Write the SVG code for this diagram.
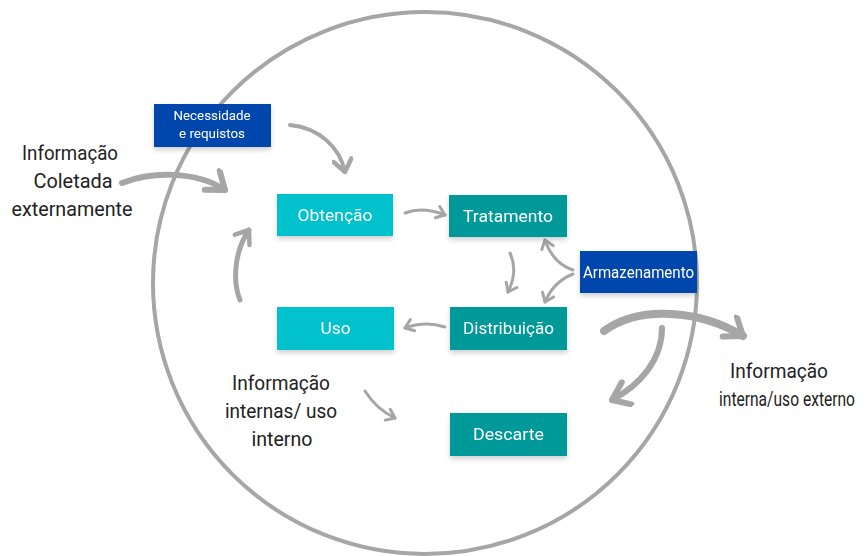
<svg xmlns="http://www.w3.org/2000/svg" width="867" height="556" viewBox="0 0 867 556">
<defs>
<style>
.box-t{font-family:Roboto,"Liberation Sans",sans-serif;fill:#ffffff;text-anchor:middle}
.lbl{font-family:Roboto,"Liberation Sans",sans-serif;fill:#222222;font-size:20px;text-anchor:middle}
.cn{fill:none;stroke:#a6a6a6;stroke-linecap:round}
.blue{fill:#0547ad}
.cyan{fill:#00c1cc}
.teal{fill:#05999a}
</style>
<filter id="sh" x="-10%" y="-20%" width="120%" height="160%">
<feDropShadow dx="0" dy="3" stdDeviation="2.5" flood-color="#000" flood-opacity="0.18"/>
</filter>
<marker id="ah" markerUnits="userSpaceOnUse" markerWidth="16" markerHeight="16" viewBox="0 0 16 16" refX="13" refY="8" orient="auto">
<path d="M5,2 L13,8 L5,14" fill="none" stroke="#a6a6a6" stroke-width="3" stroke-linecap="round" stroke-linejoin="round"/>
</marker>
<marker id="ahm" markerUnits="userSpaceOnUse" markerWidth="22" markerHeight="22" viewBox="0 0 22 22" refX="18" refY="11" orient="auto">
<path d="M6,2 L18,11 L6,20" fill="none" stroke="#a6a6a6" stroke-width="4.5" stroke-linecap="round" stroke-linejoin="round"/>
</marker>
<marker id="ahl" markerUnits="userSpaceOnUse" markerWidth="30" markerHeight="30" viewBox="0 0 30 30" refX="25" refY="15" orient="auto">
<path d="M10,2 L25,15 L8,26" fill="none" stroke="#a6a6a6" stroke-width="6" stroke-linecap="round" stroke-linejoin="round"/>
</marker>
</defs>
<rect width="867" height="556" fill="#ffffff"/>
<ellipse cx="425" cy="283" rx="272" ry="271" fill="none" stroke="#a6a6a6" stroke-width="4"/>
<g id="connectors">
<path class="cn" d="M290,125 C320,128 340,148 345,172" stroke-width="4" marker-end="url(#ahm)"/>
<path class="cn" d="M122,183 C150,172 195,170 225,190" stroke-width="6" marker-end="url(#ahl)"/>
<path class="cn" d="M405,213 C418,208 432,210 445,215" stroke-width="3" marker-end="url(#ah)"/>
<path class="cn" d="M510,253 C516,266 514,280 508,292" stroke-width="3" marker-end="url(#ah)"/>
<path class="cn" d="M573,270 C558,265 550,255 545,240" stroke-width="3" marker-end="url(#ah)"/>
<path class="cn" d="M573,274 C558,280 550,290 545,302" stroke-width="3" marker-end="url(#ah)"/>
<path class="cn" d="M445,327 C430,322 418,323 405,328" stroke-width="3" marker-end="url(#ah)"/>
<path class="cn" d="M240,300 C232,280 235,250 249,230" stroke-width="5" marker-end="url(#ahm)"/>
<path class="cn" d="M365,391 C372,402 382,412 395,418" stroke-width="3" marker-end="url(#ah)"/>
<path class="cn" d="M604,331 C640,305 700,310 743,336" stroke-width="8" marker-end="url(#ahl)"/>
<path class="cn" d="M662,328 C662,360 640,385 612,400" stroke-width="6" marker-end="url(#ahl)"/>
</g>
<g id="necessidade" filter="url(#sh)">
<rect class="blue" x="154" y="104" width="117" height="43"/>
<text class="box-t" x="212" y="120" font-size="13" textLength="77" lengthAdjust="spacingAndGlyphs">Necessidade</text>
<text class="box-t" x="212" y="138" font-size="13" textLength="66" lengthAdjust="spacingAndGlyphs">e requistos</text>
</g>
<g id="obtencao" filter="url(#sh)">
<rect class="cyan" x="277" y="194" width="116" height="42"/>
<text class="box-t" x="335" y="221" font-size="17" textLength="75" lengthAdjust="spacingAndGlyphs">Obtenção</text>
</g>
<g id="tratamento" filter="url(#sh)">
<rect class="teal" x="449" y="195" width="118" height="42"/>
<text class="box-t" x="508" y="222" font-size="17" textLength="90" lengthAdjust="spacingAndGlyphs">Tratamento</text>
</g>
<g id="armazenamento" filter="url(#sh)">
<rect class="blue" x="580" y="251" width="117" height="42"/>
<text class="box-t" x="638.5" y="278" font-size="17" textLength="111" lengthAdjust="spacingAndGlyphs">Armazenamento</text>
</g>
<g id="distribuicao" filter="url(#sh)">
<rect class="teal" x="450" y="307" width="117" height="43"/>
<text class="box-t" x="508.5" y="334" font-size="17" textLength="91" lengthAdjust="spacingAndGlyphs">Distribuição</text>
</g>
<g id="uso" filter="url(#sh)">
<rect class="cyan" x="277" y="307" width="117" height="43"/>
<text class="box-t" x="335.5" y="334" font-size="17" textLength="30" lengthAdjust="spacingAndGlyphs">Uso</text>
</g>
<g id="descarte" filter="url(#sh)">
<rect class="teal" x="450" y="413" width="117" height="43"/>
<text class="box-t" x="508.5" y="440" font-size="17" textLength="71" lengthAdjust="spacingAndGlyphs">Descarte</text>
</g>
<g id="label-coletada">
<text class="lbl" x="70" y="160" textLength="96" lengthAdjust="spacingAndGlyphs">Informação</text>
<text class="lbl" x="73" y="188" textLength="79" lengthAdjust="spacingAndGlyphs">Coletada</text>
<text class="lbl" x="72" y="216" textLength="121" lengthAdjust="spacingAndGlyphs">externamente</text>
</g>
<g id="label-internas">
<text class="lbl" x="281" y="390" textLength="98" lengthAdjust="spacingAndGlyphs">Informação</text>
<text class="lbl" x="281" y="418" textLength="112" lengthAdjust="spacingAndGlyphs">internas/ uso</text>
<text class="lbl" x="282" y="446" textLength="61" lengthAdjust="spacingAndGlyphs">interno</text>
</g>
<g id="label-externo">
<text class="lbl" x="779" y="378" textLength="98" lengthAdjust="spacingAndGlyphs">Informação</text>
<text class="lbl" x="787" y="406" font-size="16" textLength="136" lengthAdjust="spacingAndGlyphs">interna/uso externo</text>
</g>
</svg>
